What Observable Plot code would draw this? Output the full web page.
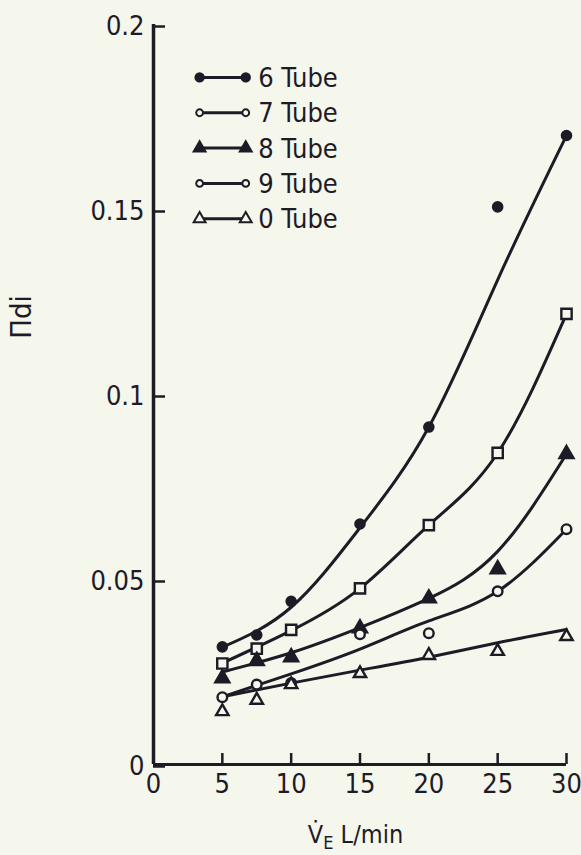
<!DOCTYPE html>
<html>
<head>
<meta charset="utf-8">
<script src="https://cdn.jsdelivr.net/npm/d3@7"></script>
<script src="https://cdn.jsdelivr.net/npm/@observablehq/plot@0.6"></script>
<style>
  html, body { margin: 0; padding: 0; background: #f5f6ec; }
  #chart svg { display: block; }
</style>
</head>
<body>
<div id="chart"></div>
<script>
// ---- data ----
const seriesNames = ["6 Tube", "7 Tube", "8 Tube", "9 Tube", "0 Tube"];
const flowRates = [5, 7.5, 10, 15, 20, 25, 30];           // V̇E, L/min
const tube6 = [0.0318, 0.0350, 0.0441, 0.0650, 0.0912, 0.1507, 0.1700];
const tube7 = [0.0273, 0.0313, 0.0364, 0.0476, 0.0647, 0.0842, 0.1218];
const tube8 = [0.0233, 0.0280, 0.0290, 0.0368, 0.0449, 0.0528, 0.0839];
const tube9 = [0.0182, 0.0216, 0.0220, 0.0352, 0.0355, 0.0468, 0.0636];
const tube0 = [0.0143, 0.0174, 0.0216, 0.0246, 0.0295, 0.0306, 0.0346];

// fitted curves
const fitX = [5, 10, 15, 20, 25, 30];
const fit6 = [0.0317, 0.0425, 0.0640, 0.0912, 0.1310, 0.1700];
const fit7 = [0.0274, 0.0362, 0.0476, 0.0647, 0.0842, 0.1218];
const fit8 = [0.0250, 0.0302, 0.0370, 0.0449, 0.0576, 0.0839];
const fit9 = [0.0183, 0.0245, 0.0312, 0.0388, 0.0468, 0.0636];
const fit0 = [0.0183, 0.0220, 0.0255, 0.0290, 0.0329, 0.0365];

const xTicks = [0, 5, 10, 15, 20, 25, 30];
const yTicks = [0, 0.05, 0.1, 0.15, 0.2];

// ---- styling ----
const ink = "#1d1b26";
const bg = "#f5f6ec";
const font = "'DejaVu Sans Condensed', 'DejaVu Sans', sans-serif";
const markerSymbols = ["circle", "square", "triangle", "circle", "triangle"];
const legendSymbols = ["circle", "circle", "triangle", "circle", "triangle"];
const filled = [true, false, true, false, false];
const markerR = [4.6, 5.8, 5.2, 4.8, 4.6];

const pointSets = [tube6, tube7, tube8, tube9, tube0];
const fitSets = [fit6, fit7, fit8, fit9, fit0];

const points = seriesNames.flatMap((s, k) =>
  flowRates.map((x, i) => ({series: s, k, x, y: pointSets[k][i]})));
const fits = seriesNames.flatMap((s, k) =>
  fitX.map((x, i) => ({series: s, k, x, y: fitSets[k][i]})));

// legend layout (in data units of the chart)
const legX1 = 3.35, legX2 = 6.7, legTextX = 7.6;
const legTop = 0.1857, legStep = 0.00955;
const legend = seriesNames.map((s, k) => ({series: s, k, y: legTop - k * legStep}));

const dotMarks = seriesNames.map((s, k) =>
  Plot.dot(points.filter(d => d.k === k), {
    x: "x", y: "y",
    symbol: () => markerSymbols[k],
    r: markerR[k],
    fill: filled[k] ? ink : bg,
    stroke: ink,
    strokeWidth: 2.4
  }));

const legendDotMarks = seriesNames.flatMap((s, k) => {
  const rows = legend.filter(d => d.k === k);
  const opts = {
    y: "y",
    symbol: () => legendSymbols[k],
    r: legendSymbols[k] === "triangle" ? 4.4 : (filled[k] ? 4.2 : 3.4),
    fill: filled[k] ? ink : bg,
    stroke: ink,
    strokeWidth: 2
  };
  return [
    Plot.dot(rows, {...opts, x: () => legX1}),
    Plot.dot(rows, {...opts, x: () => legX2})
  ];
});

const plot = Plot.plot({
  width: 581,
  height: 855,
  marginLeft: 153,
  marginRight: 15,
  marginTop: 24,
  marginBottom: 91,
  style: {background: bg, color: ink, fontFamily: font, fontSize: "27px"},
  x: {domain: [0, 30]},
  y: {domain: [0, 0.2]},
  marks: [
    Plot.ruleY([0], {stroke: ink, strokeWidth: 3}),
    Plot.ruleX([0], {stroke: ink, strokeWidth: 3.5}),
    Plot.axisX({ticks: xTicks, tickSize: -11, tickPadding: 20, strokeWidth: 2.5,
      label: null, fill: ink, fontSize: 27, tickFormat: d => String(d)}),
    Plot.axisY({ticks: yTicks, tickSize: -12, tickPadding: 21, strokeWidth: 2.5,
      label: null, fill: ink, fontSize: 27, dy: 2,
      tickFormat: d => d === 0 ? "0" : String(d)}),
    Plot.line(fits, {x: "x", y: "y", z: "series", stroke: ink, strokeWidth: 3,
      curve: "natural"}),
    ...dotMarks,
    // legend
    Plot.link(legend, {x1: () => legX1, x2: () => legX2, y1: "y", y2: "y",
      stroke: ink, strokeWidth: 3}),
    ...legendDotMarks,
    Plot.text(legend, {x: () => legTextX, y: "y", text: "series", textAnchor: "start",
      fill: ink, fontSize: 27, dy: 1})
  ]
});

document.getElementById("chart").append(plot);

// axis titles (with subscript / dot accent)
const svg = d3.select(plot);
const xs = plot.scale("x").range;
const xTitle = svg.append("text")
  .attr("x", (xs[0] + xs[1]) / 2 - 4)
  .attr("y", 843)
  .attr("text-anchor", "middle")
  .attr("fill", ink)
  .style("font-family", font)
  .style("font-size", "25px");
xTitle.append("tspan").text("V\u0307");
xTitle.append("tspan").attr("dy", 6).style("font-size", "18px").text("E");
xTitle.append("tspan").attr("dy", -6).text(" L/min");

svg.append("text")
  .attr("transform", "translate(31,317) rotate(-90)")
  .attr("text-anchor", "middle")
  .attr("fill", ink)
  .style("font-family", font)
  .style("font-size", "29px")
  .text("\u03A0di");
</script>
</body>
</html>
